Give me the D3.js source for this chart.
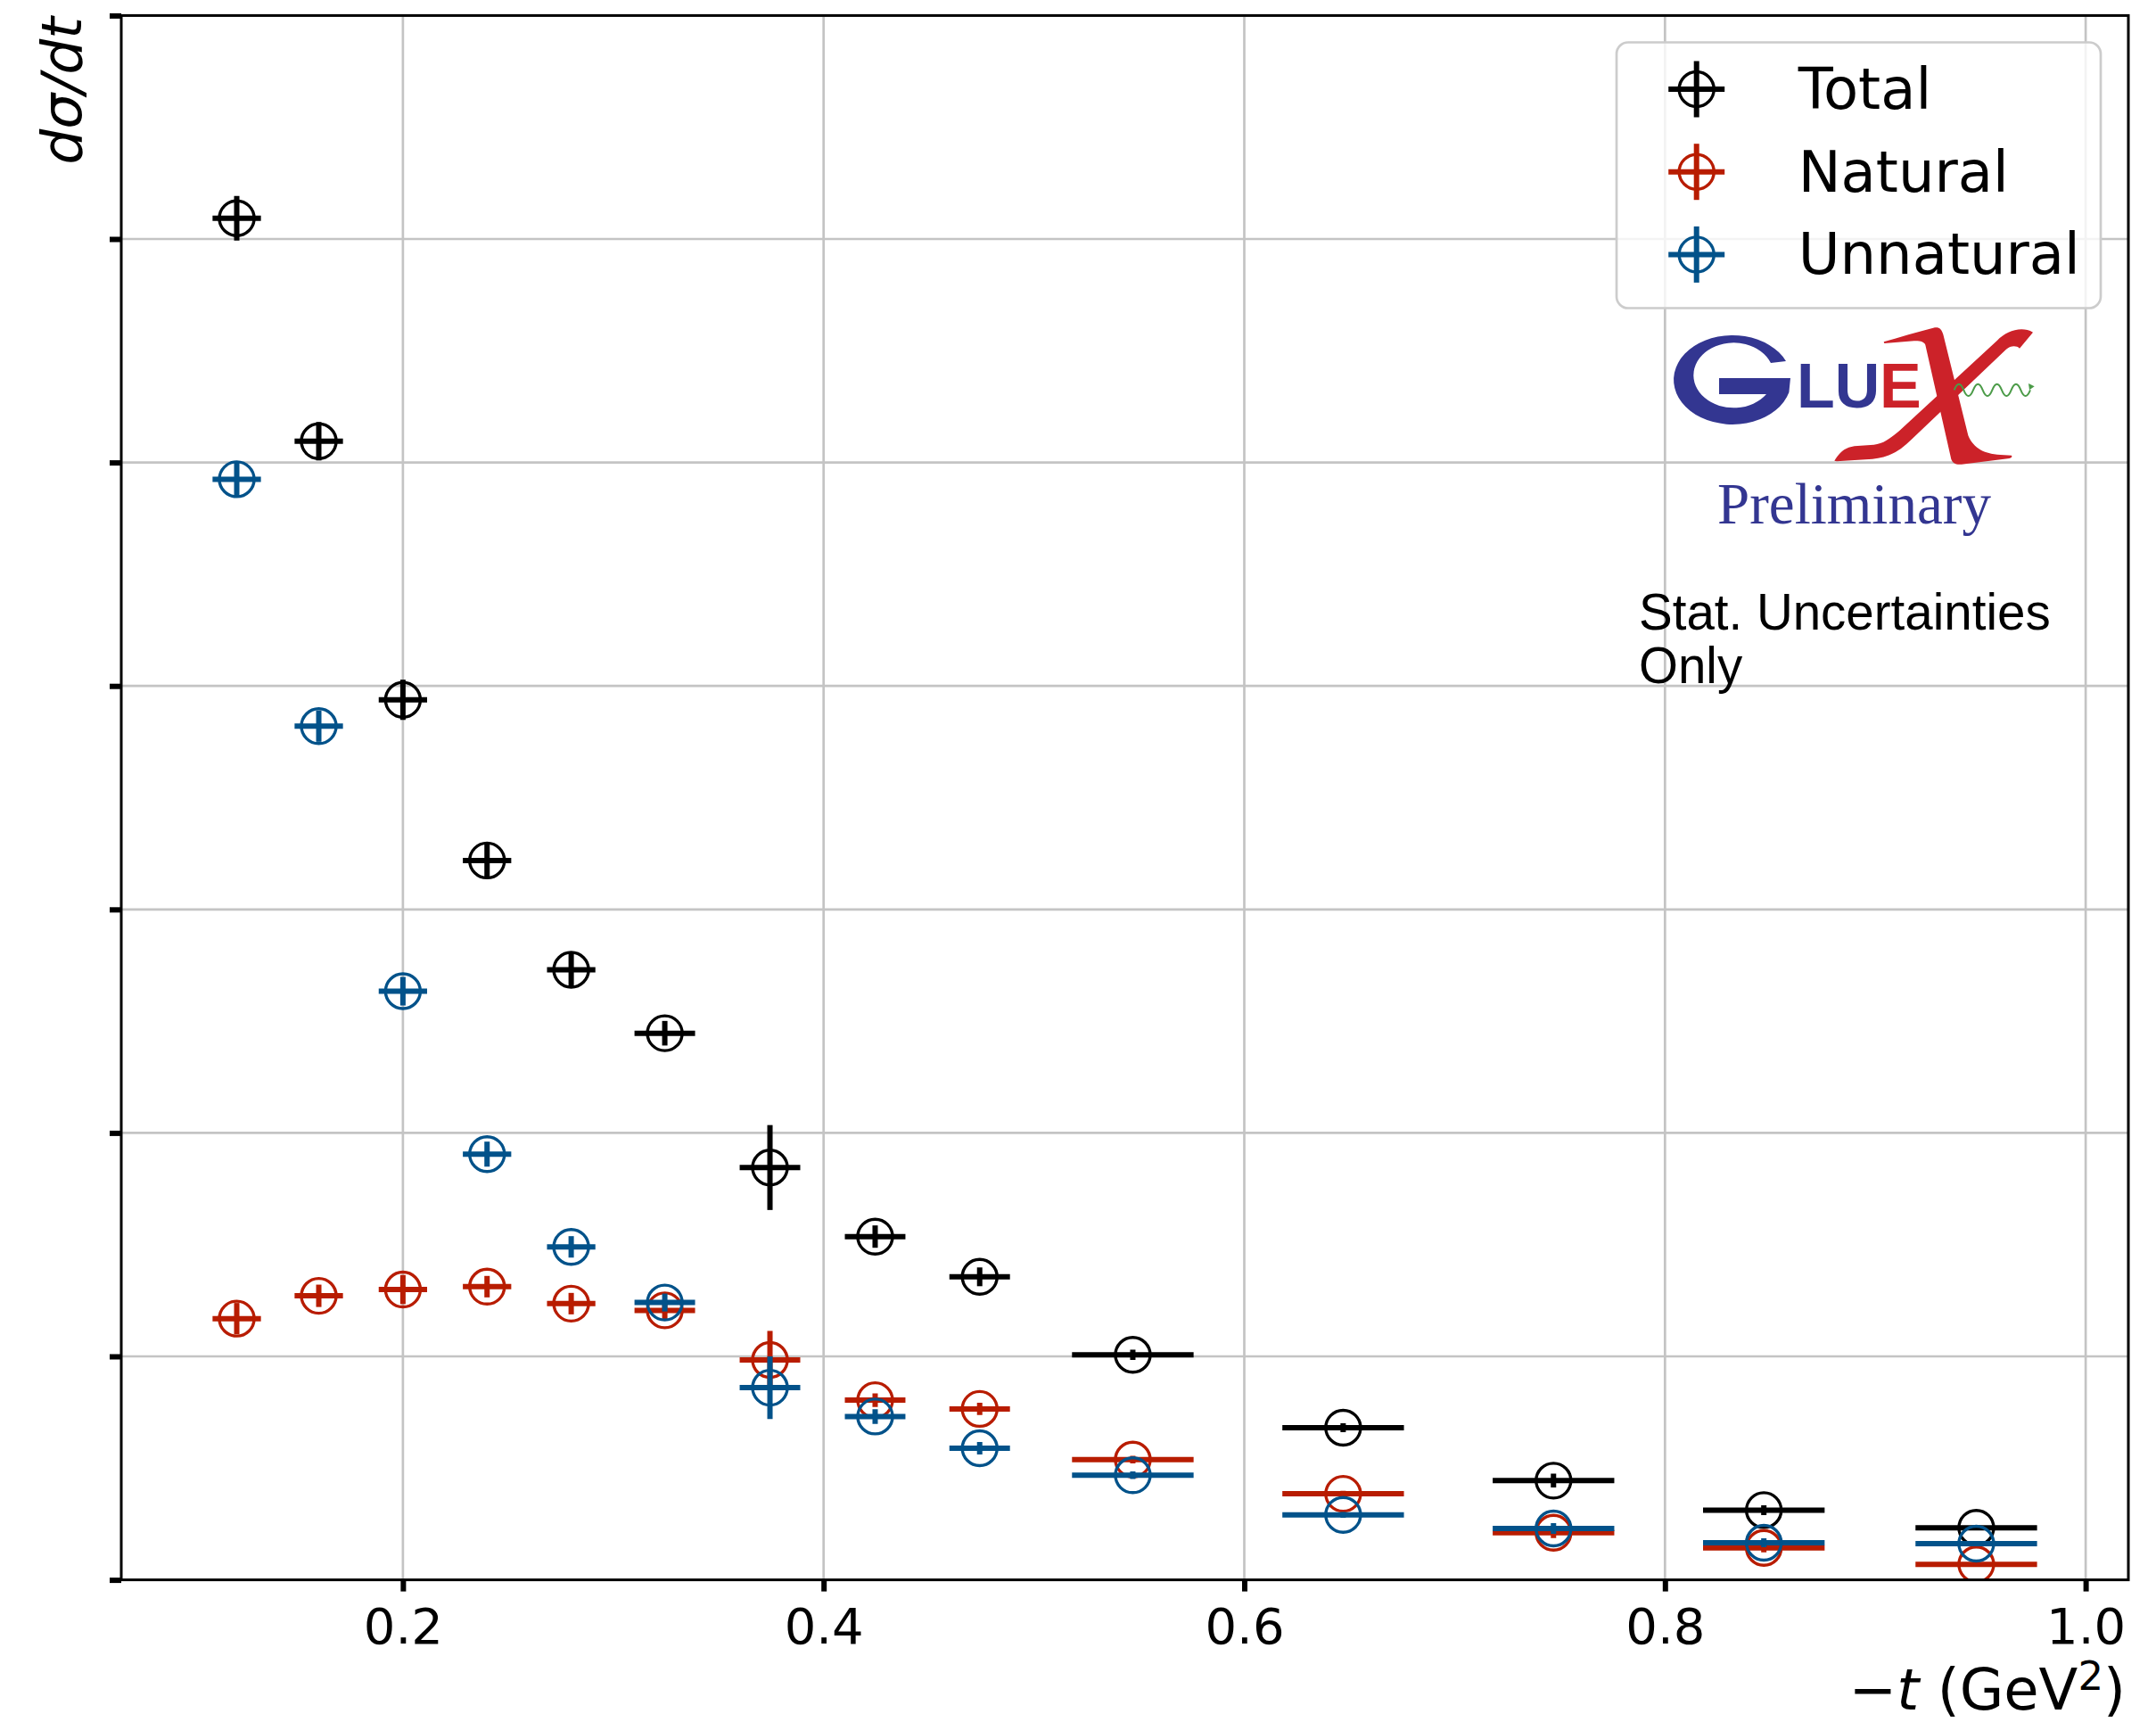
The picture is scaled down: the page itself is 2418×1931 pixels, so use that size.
<!DOCTYPE html>
<html>
<head>
<meta charset="utf-8">
<script src="https://cdn.jsdelivr.net/npm/d3@7"></script>
<style>
  body { margin: 0; background: #fff; }
  svg { display: block; }
</style>
</head>
<body>
<svg id="chart" width="2418" height="1931"></svg>
<script>
// -t bin centres and their x errors (rms of the bin)
var tVals = [0.121, 0.160, 0.200, 0.240, 0.280, 0.3245, 0.3745, 0.4245, 0.4742, 0.547, 0.647, 0.747, 0.847, 0.948];
var tErr  = [0.0115, 0.0115, 0.0115, 0.0115, 0.0115, 0.0144, 0.0144, 0.0144, 0.0144, 0.0289, 0.0289, 0.0289, 0.0289, 0.0289];

// cross sections (arbitrary units, y ticks have no labels)
var totalVals = [6.093, 5.095, 3.938, 3.219, 2.730, 2.446, 1.845, 1.536, 1.356, 1.007, 0.681, 0.444, 0.312, 0.233];
var totalErr  = [0.100, 0.086, 0.090, 0.080, 0.080, 0.055, 0.190, 0.050, 0.042, 0.023, 0.020, 0.031, 0.022, 0.010];
var naturalVals = [1.169, 1.271, 1.299, 1.312, 1.236, 1.206, 0.984, 0.804, 0.765, 0.538, 0.385, 0.211, 0.143, 0.069];
var naturalErr  = [0.070, 0.050, 0.065, 0.048, 0.048, 0.040, 0.130, 0.030, 0.027, 0.017, 0.013, 0.024, 0.020, 0.010];
var unnaturalVals = [4.925, 3.820, 2.634, 1.905, 1.490, 1.241, 0.860, 0.731, 0.589, 0.468, 0.291, 0.230, 0.166, 0.162];
var unnaturalErr  = [0.076, 0.070, 0.064, 0.056, 0.048, 0.040, 0.140, 0.033, 0.028, 0.017, 0.013, 0.024, 0.020, 0.010];

var xTicks = [0.2, 0.4, 0.6, 0.8, 1.0];
var yTicks = [0, 1, 2, 3, 4, 5, 6, 7];
var seriesNames = ["Total", "Natural", "Unnatural"];
var seriesColors = ["#000000", "#b81c00", "#02528a"];

var series = [
    { name: seriesNames[0], color: seriesColors[0], vals: totalVals, errs: totalErr },
    { name: seriesNames[1], color: seriesColors[1], vals: naturalVals, errs: naturalErr },
    { name: seriesNames[2], color: seriesColors[2], vals: unnaturalVals, errs: unnaturalErr }
];

var L = 136, R = 2387, T = 17.4, B = 1771.6;
var scX = d3.scaleLinear().domain([0.0661, 1.0203]).range([L, R]);
var scY = d3.scaleLinear().domain([0, 7]).range([B, T]);

var svg = d3.select('#chart');
var FONT = "'DejaVu Sans', sans-serif";

svg.append('defs').append('clipPath').attr('id', 'plotclip')
    .append('rect').attr('x', L).attr('y', T).attr('width', R - L).attr('height', B - T);

// grid
var grid = svg.append('g');
grid.selectAll('.gx').data(xTicks).enter().append('line')
    .attr('x1', d => scX(d)).attr('x2', d => scX(d)).attr('y1', T).attr('y2', B)
    .attr('stroke', '#c4c4c4').attr('stroke-width', 2.7);
grid.selectAll('.gy').data(yTicks).enter().append('line')
    .attr('y1', d => scY(d)).attr('y2', d => scY(d)).attr('x1', L).attr('x2', R)
    .attr('stroke', '#c4c4c4').attr('stroke-width', 2.7);

// data: error bars + open circle markers
var plot = svg.append('g').attr('clip-path', 'url(#plotclip)');
series.forEach(function(s){
    var g = plot.append('g');
    var pts = tVals.map((t, i) => ({ t: t, te: tErr[i], v: s.vals[i], ve: s.errs[i] }));
    g.selectAll('.hx').data(pts).enter().append('line')
        .attr('x1', d => scX(d.t - d.te)).attr('x2', d => scX(d.t + d.te))
        .attr('y1', d => scY(d.v)).attr('y2', d => scY(d.v))
        .attr('stroke', s.color).attr('stroke-width', 6);
    g.selectAll('.vy').data(pts).enter().append('line')
        .attr('x1', d => scX(d.t)).attr('x2', d => scX(d.t))
        .attr('y1', d => scY(d.v - d.ve)).attr('y2', d => scY(d.v + d.ve))
        .attr('stroke', s.color).attr('stroke-width', 6);
    g.selectAll('circle').data(pts).enter().append('circle')
        .attr('cx', d => scX(d.t)).attr('cy', d => scY(d.v)).attr('r', 19.5)
        .attr('fill', 'none').attr('stroke', s.color).attr('stroke-width', 3.4);
});

// axes
var xAxis = svg.append('g').attr('transform', 'translate(0,' + B + ')')
    .call(d3.axisBottom(scX).tickValues(xTicks).tickSize(13).tickFormat(d3.format('.1f')));
var yAxis = svg.append('g').attr('transform', 'translate(' + L + ',0)')
    .call(d3.axisLeft(scY).tickValues(yTicks).tickSize(13).tickFormat(''));
[xAxis, yAxis].forEach(function(a){
    a.select('.domain').remove();
    a.selectAll('.tick line').attr('stroke', '#000').attr('stroke-width', 6);
});
xAxis.selectAll('.tick text').attr('y', 71).attr('dy', 0)
    .attr('font-family', FONT).attr('font-size', 56).attr('fill', '#000');

// spines
svg.append('rect').attr('x', L).attr('y', T).attr('width', R - L).attr('height', B - T)
    .attr('fill', 'none').attr('stroke', '#000').attr('stroke-width', 3);

// axis labels
var xl = svg.append('text').attr('x', 2384).attr('y', 1917).attr('text-anchor', 'end')
    .attr('font-family', FONT).attr('font-size', 64).attr('fill', '#000');
xl.append('tspan').text('\u2212');
xl.append('tspan').attr('font-style', 'italic').text('t');
xl.append('tspan').text(' (GeV');
xl.append('tspan').attr('font-size', 45).attr('dy', -22).text('2');
xl.append('tspan').attr('dy', 22).text(')');

svg.append('text').attr('transform', 'translate(91,19) rotate(-90)').attr('text-anchor', 'end')
    .attr('font-family', FONT).attr('font-size', 63).attr('font-style', 'italic').attr('fill', '#000')
    .text('d\u03c3/dt');

// legend
var leg = svg.append('g');
leg.append('rect').attr('x', 1813).attr('y', 47.5).attr('width', 543).attr('height', 298)
    .attr('rx', 13).attr('fill', '#fff').attr('fill-opacity', 0.8)
    .attr('stroke', '#cccccc').attr('stroke-width', 2.7);
var legRows = leg.selectAll('.row').data(series).enter().append('g')
    .attr('transform', (d, i) => 'translate(1902.7,' + (100 + i * 92.7) + ')');
legRows.append('line').attr('x1', -31.5).attr('x2', 31.5).attr('y1', 0).attr('y2', 0)
    .attr('stroke', d => d.color).attr('stroke-width', 6);
legRows.append('line').attr('y1', -31.5).attr('y2', 31.5).attr('x1', 0).attr('x2', 0)
    .attr('stroke', d => d.color).attr('stroke-width', 6);
legRows.append('circle').attr('r', 19.5).attr('fill', 'none')
    .attr('stroke', d => d.color).attr('stroke-width', 3.4);
legRows.append('text').attr('x', 114).attr('y', 22).attr('font-family', FONT)
    .attr('font-size', 64).attr('fill', '#000').text(d => d.name);

// GlueX logo
var logo = svg.append('g');
logo.append('path').attr('fill', '#333691')
    .attr('d', 'M2003,405 A66,50 0 1,0 2006.4,440 L2008,424 L1928,424 L1928,442 L1981,442 ' +
               'A45,36.5 0 1,1 1986,407 Z');
logo.append('text').attr('x', 2015).attr('y', 457).attr('font-family', "'Liberation Sans', Arial, sans-serif")
    .attr('font-weight', 'bold').attr('font-size', 70).attr('fill', '#333691').text('LU');
logo.append('text').attr('x', 2108).attr('y', 457).attr('font-family', "'Liberation Sans', Arial, sans-serif")
    .attr('font-weight', 'bold').attr('font-size', 70).attr('fill', '#cc2229').text('E');
var xg = logo.append('g').attr('transform', 'translate(1800,350) scale(0.33333)');
xg.append('path').attr('fill', '#cc2229')
    .attr('d', 'M772,500 C790,470 810,452 850,450 L905,446 C935,444 960,425 990,400 L1320,95 ' +
               'C1350,65 1400,45 1440,68 L1395,122 C1385,112 1365,112 1350,125 L1030,430 ' +
               'C990,470 950,490 900,494 L780,502 Z');
xg.append('path').attr('fill', '#cc2229')
    .attr('d', 'M938,100 C990,85 1050,68 1110,52 C1125,50 1133,58 1138,75 L1222,415 ' +
               'C1240,460 1280,478 1330,480 L1368,482 C1372,488 1365,492 1355,493 L1200,512 ' +
               'C1180,514 1170,508 1165,495 L1078,110 C1074,100 1060,96 1040,97 L940,105 Z');
xg.append('path').attr('fill', 'none').attr('stroke', '#4b9b48').attr('stroke-width', 6)
    .attr('d', 'M1175,262 q16,-40 32,0 t32,0 t32,0 t32,0 t32,0 t32,0 t32,0 t32,0');
xg.append('path').attr('fill', '#4b9b48').attr('d', 'M1445,250 L1425,240 L1428,262 Z');

svg.append('text').attr('x', 1926).attr('y', 587)
    .attr('font-family', "'Liberation Serif', 'Times New Roman', serif")
    .attr('font-size', 65).attr('fill', '#333691').text('Preliminary');

var note = svg.append('text').attr('font-family', "'Liberation Sans', Arial, sans-serif")
    .attr('font-size', 56.5).attr('fill', '#000');
note.append('tspan').attr('x', 1838).attr('y', 706).text('Stat. Uncertainties');
note.append('tspan').attr('x', 1838).attr('y', 766).text('Only');
</script>
</body>
</html>
